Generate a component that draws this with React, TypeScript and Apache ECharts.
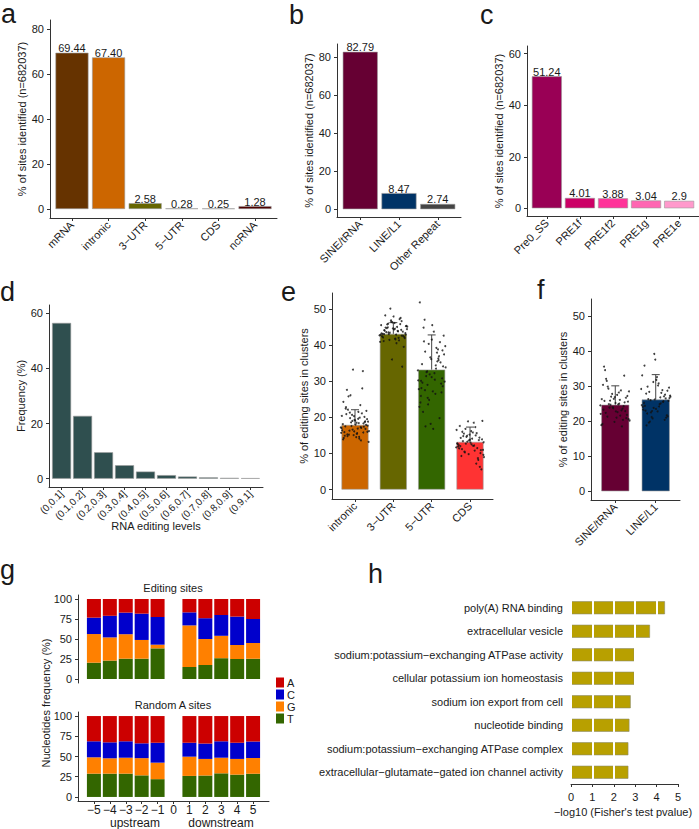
import React, { useEffect, useRef } from 'react';
import * as echarts from 'echarts';

// ---------------- data ----------------
const aCategories = ['mRNA', 'intronic', '3−UTR', '5−UTR', 'CDS', 'ncRNA'];
const aValues = [69.44, 67.4, 2.58, 0.28, 0.25, 1.28];
const aLabels = ['69.44', '67.40', '2.58', '0.28', '0.25', '1.28'];

const bCategories = ['SINE/tRNA', 'LINE/L1', 'Other Repeat'];
const bValues = [82.79, 8.47, 2.74];
const bLabels = ['82.79', '8.47', '2.74'];

const cCategories = ['Pre0_SS', 'PRE1f', 'PRE1f2', 'PRE1g', 'PRE1e'];
const cValues = [51.24, 4.01, 3.88, 3.04, 2.9];
const cLabels = ['51.24', '4.01', '3.88', '3.04', '2.9'];

const dCategories = ['(0,0.1]', '(0.1,0.2]', '(0.2,0.3]', '(0.3,0.4]', '(0.4,0.5]', '(0.5,0.6]', '(0.6,0.7]', '(0.7,0.8]', '(0.8,0.9]', '(0.9,1]'];
const dValues = [56.5, 22.8, 9.6, 4.9, 2.6, 1.3, 0.8, 0.5, 0.3, 0.2];

const eCategories = ['intronic', '3−UTR', '5−UTR', 'CDS'];
const eMeans = [17.9, 43.1, 33.2, 13.2];
const eSd = [4.2, 3.1, 9.6, 4.1];
const ePoints = [
  [17.2, 21.5, 14.8, 18.9, 16.1, 24.3, 13.6, 19.8, 17.7, 15.4, 22.8, 18.3, 16.6, 20.4, 14.1, 25.8, 17.9, 19.1, 15.9, 21.1, 18.6, 13.2, 16.9, 27.6, 20.1, 15.1, 18.1, 23.4, 16.3, 19.5, 14.5, 17.5, 32.8, 20.7, 15.7, 18.4, 22.1, 16.8, 19.3, 14.3, 17.1, 26.1, 18.8, 15.6, 20.9, 17.4, 33.2, 16.4, 19.9, 15.2, 21.8, 18.0, 14.9, 28.0, 17.6, 16.2, 19.6, 15.3, 18.7, 20.3, 13.9, 17.3, 21.3, 16.0, 18.5, 22.4, 15.8, 19.0, 17.0, 14.6],
  [43.5, 45.2, 41.8, 44.1, 42.6, 46.8, 40.9, 43.9, 44.7, 42.2, 47.9, 43.1, 45.8, 41.4, 44.4, 42.9, 48.2, 43.7, 36.0, 45.5, 42.0, 44.9, 43.3, 46.1, 41.1, 44.2, 50.1, 42.7, 45.0, 43.6, 39.5, 44.6, 42.4, 47.2, 43.0, 45.3, 41.6, 44.0, 34.0, 46.5, 42.8, 43.8, 45.7, 41.9, 44.3, 42.1, 47.5, 43.4, 45.1, 40.5, 44.8, 42.5, 46.3, 43.2, 41.3, 45.9, 42.9, 44.5, 43.0, 46.6],
  [33.5, 38.2, 28.6, 41.5, 30.1, 35.8, 25.4, 39.7, 32.2, 44.8, 29.3, 36.6, 22.9, 37.9, 31.4, 42.6, 27.2, 34.7, 19.8, 40.3, 33.0, 26.5, 47.0, 30.8, 36.1, 24.1, 38.8, 32.7, 29.9, 43.7, 21.5, 35.2, 31.9, 27.8, 39.2, 17.5, 34.1, 45.5, 28.1, 36.9, 23.6, 33.8, 30.4, 41.0, 26.9, 18.2, 51.8, 35.5, 32.5, 37.4, 16.8, 29.6, 40.8, 24.8, 30.2, 34.4, 27.5, 38.5, 31.1, 25.9, 36.3, 29.0],
  [13.1, 15.8, 11.2, 14.4, 9.8, 12.6, 17.3, 10.5, 13.9, 16.2, 12.0, 8.7, 14.9, 11.7, 18.5, 13.4, 10.1, 15.2, 12.3, 7.2, 16.8, 11.0, 14.1, 9.3, 13.7, 18.9, 12.8, 10.8, 15.5, 5.6, 13.0, 17.6, 11.5, 14.6, 9.0, 12.1, 16.0, 6.3, 13.6, 11.9, 15.0, 10.3, 19.0, 12.5, 14.3, 8.2, 13.3, 16.5, 12.2, 14.8, 10.9, 13.8, 11.4, 15.6, 12.7, 9.6],
];

const fCategories = ['SINE/tRNA', 'LINE/L1'];
const fMeans = [24.7, 26.2];
const fSd = [5.4, 7.1];
const fPoints = [
  [24.5, 28.2, 21.3, 26.7, 19.8, 30.4, 23.1, 25.9, 20.6, 27.5, 22.4, 33.0, 24.0, 18.9, 26.1, 29.3, 21.8, 25.2, 35.6, 23.6, 27.0, 20.2, 24.8, 31.5, 22.9, 26.4, 19.2, 28.8, 23.9, 25.6, 21.0, 34.6, 24.3, 27.8, 22.1, 25.0, 29.9, 20.9, 26.9, 23.3, 18.5, 24.7, 28.5, 22.6, 32.1, 25.4, 23.7, 26.3, 21.6, 24.9, 27.2, 22.8, 25.8, 20.4],
  [26.0, 29.6, 22.8, 27.9, 20.4, 31.2, 24.6, 26.8, 19.6, 28.7, 23.5, 35.9, 25.5, 21.2, 27.3, 30.8, 22.2, 26.5, 39.2, 24.1, 28.1, 19.9, 25.8, 32.6, 23.0, 27.1, 20.8, 29.2, 24.9, 26.3, 21.7, 37.6, 25.2, 28.9, 22.5, 26.6, 30.2, 18.8, 27.6, 23.8, 33.1, 25.1, 28.4, 21.4, 31.8, 24.4, 25.7, 22.9, 27.0, 24.2, 29.9, 21.0, 26.2, 23.3],
];

const gSlots = [-6, -5, -4, -3, -2, -1, 0, 1, 2, 3, 4, 5, 6];
const gPositions = [-5, -4, -3, -2, -1, 1, 2, 3, 4, 5];
const editT = [20.4, 23, 25.4, 25.4, 38.3, 15, 17.5, 26, 25, 25.4];
const editG = [35.8, 29, 30.6, 23.4, 4.6, 52, 32.5, 28, 17.5, 19.6];
const editC = [20.5, 27, 27, 32.9, 34.6, 16.3, 26, 26, 35.5, 30];
const editA = [23.3, 21, 17, 18.3, 22.5, 16.7, 24, 20, 22, 25];
const randT = [28.8, 28.8, 28.8, 26.7, 22, 26, 26.5, 29.2, 27.6, 28.8];
const randG = [20.2, 19, 19.7, 21.3, 20.4, 23.8, 20.5, 19.3, 19.4, 19.2];
const randC = [19.8, 19.7, 20.3, 18.3, 24.6, 17.2, 19, 20.3, 20, 20.5];
const randA = [31.2, 32.5, 31.2, 33.7, 33, 33, 34, 31.2, 33, 31.5];

const hTerms = [
  'poly(A) RNA binding',
  'extracellular vesicle',
  'sodium:potassium−exchanging ATPase activity',
  'cellular potassium ion homeostasis',
  'sodium ion export from cell',
  'nucleotide binding',
  'sodium:potassium−exchanging ATPase complex',
  'extracellular−glutamate−gated ion channel activity',
];
const hValues = [4.39, 3.69, 2.96, 2.96, 2.79, 2.73, 2.68, 2.68];

const ticksA = [0, 20, 40, 60, 80];
const ticksC = [0, 20, 40, 60];
const ticksE = [0, 10, 20, 30, 40, 50];
const ticksG = [0, 25, 50, 75, 100];

// ---------------- styles ----------------
const FONT = "'Liberation Sans', Arial, Helvetica, sans-serif";
const AX = '#333333';
const TXT = '#1a1a1a';
const aColors = ['#663300', '#CC6600', '#666600', '#336600', '#FF3333', '#4D0000'];
const bColors = ['#660033', '#003366', '#444444'];
const cColors = ['#990055', '#CC0066', '#FF3399', '#FF66B2', '#FF99CC'];
const eColors = ['#CC6600', '#666600', '#336600', '#FF3333'];
const nucColors: Record<string, string> = { A: '#CC0000', C: '#0000CC', G: '#FF8000', T: '#336600' };

const minusFmt = (v: number) => (v < 0 ? '−' + Math.abs(v) : String(v));

function yVal(gridIndex: number, min: number, max: number, ticks: number[], name?: string): any {
  return {
    type: 'value', gridIndex, min, max, name: name || '', nameLocation: 'middle', nameGap: 20,
    nameTextStyle: { fontFamily: FONT, fontSize: 11, color: TXT },
    axisLine: { show: true, onZero: false, lineStyle: { color: AX, width: 1 } },
    axisTick: { show: true, length: 3, customValues: ticks, lineStyle: { color: AX } },
    axisLabel: { customValues: ticks, color: TXT, fontSize: 11, fontFamily: FONT, margin: 6 },
    splitLine: { show: false },
  };
}

function xCat(gridIndex: number, cats: string[], fontSize = 11): any {
  const idx = cats.map((_, i) => i + 1);
  return {
    type: 'value', gridIndex, min: 0.4, max: cats.length + 0.6,
    axisLine: { show: true, onZero: false, lineStyle: { color: AX, width: 1 } },
    axisTick: { show: true, length: 3, customValues: idx, lineStyle: { color: AX } },
    axisLabel: {
      customValues: idx, rotate: 45, color: TXT, fontSize, fontFamily: FONT, margin: 5,
      formatter: (v: number) => cats[Math.round(v) - 1] ?? '',
    },
    splitLine: { show: false },
  };
}

function simpleBars(ax: number, values: number[], colors: string[], width: number, labels?: string[]): any {
  return {
    type: 'bar', xAxisIndex: ax, yAxisIndex: ax, barWidth: width,
    itemStyle: { borderColor: '#9a9a9a', borderWidth: 0.6 },
    data: values.map((v, i) => ({ value: [i + 1, v], itemStyle: { color: colors[i % colors.length] } })),
    label: labels ? {
      show: true, position: 'top', distance: -1, color: TXT, fontSize: 11, fontFamily: FONT,
      formatter: (p: any) => labels[p.dataIndex],
    } : { show: false },
    z: 2,
  };
}

const jitter = (i: number) => (((i * 0.6180339887) % 1) - 0.5) * 0.74;

function pointsSeries(ax: number, groups: number[][]): any {
  const data: number[][] = [];
  groups.forEach((g, gi) => g.forEach((y, i) => data.push([gi + 1 + jitter(i + gi * 7), y])));
  return {
    type: 'scatter', xAxisIndex: ax, yAxisIndex: ax, symbolSize: 2,
    itemStyle: { color: '#111' }, data, z: 5, silent: true,
  };
}

function errSeries(ax: number, means: number[], sds: number[]): any {
  return {
    type: 'custom', xAxisIndex: ax, yAxisIndex: ax, z: 4, silent: true,
    data: means.map((m, i) => [i + 1, m, m + sds[i]]),
    encode: { x: 0, y: [1, 2] },
    renderItem: (params: any, api: any) => {
      const x = api.value(0);
      const p1 = api.coord([x, api.value(1)]);
      const p2 = api.coord([x, api.value(2)]);
      const w = 4;
      return {
        type: 'group',
        children: [
          { type: 'line', shape: { x1: p1[0], y1: p1[1], x2: p2[0], y2: p2[1] }, style: { stroke: '#444', lineWidth: 1 } },
          { type: 'line', shape: { x1: p2[0] - w, y1: p2[1], x2: p2[0] + w, y2: p2[1] }, style: { stroke: '#444', lineWidth: 1 } },
        ],
      };
    },
  };
}

function stackSeries(ax: number, name: string, vals: number[], stack: string): any {
  return {
    type: 'bar', name, xAxisIndex: ax, yAxisIndex: ax, stack, barWidth: 14,
    itemStyle: { color: nucColors[name] },
    data: vals.map((v, i) => [String(gPositions[i]), v]),
  };
}

function gX(gridIndex: number, show: boolean): any {
  const last = gSlots.length - 1;
  return {
    type: 'category', gridIndex, data: gSlots.map(String), boundaryGap: false, show,
    axisLine: { show: true, onZero: false, lineStyle: { color: AX, width: 1 } },
    axisTick: {
      show: true, length: 3, lineStyle: { color: AX },
      interval: (i: number) => i > 0 && i < last,
    },
    axisLabel: {
      color: TXT, fontSize: 12, fontFamily: FONT, margin: 3,
      interval: (i: number) => i > 0 && i < last,
      formatter: (v: string) => minusFmt(Number(v)),
    },
    splitLine: { show: false },
  };
}

function txt(text: string, x: number, y: number, size = 11, align = 'center', vAlign = 'middle', rotation = 0): any {
  return {
    type: 'text', x, y, rotation,
    style: { text, font: `${size}px ${FONT}`, fill: TXT, textAlign: align, textVerticalAlign: vAlign },
  };
}

function buildOption(): any {
  const grid = [
    { left: 50, top: 20, width: 227, height: 198 },
    { left: 337, top: 44, width: 124, height: 173 },
    { left: 527, top: 46, width: 172, height: 170 },
    { left: 49, top: 305, width: 214, height: 182 },
    { left: 332, top: 293, width: 161, height: 206 },
    { left: 591, top: 299, width: 89, height: 201 },
    { left: 78, top: 595, width: 191, height: 88 },
    { left: 78, top: 712, width: 191, height: 89 },
    { left: 571, top: 596, width: 107, height: 188 },
  ].map((g) => ({ ...g, containLabel: false, outerBoundsMode: 'none' }));

  const nameA = '% of sites identified (n=682037)';
  const nameE = '% of editing sites in clusters';

  const xAxis: any[] = [
    xCat(0, aCategories),
    xCat(1, bCategories),
    xCat(2, cCategories),
    xCat(3, dCategories, 10),
    xCat(4, eCategories),
    xCat(5, fCategories),
    gX(6, false),
    gX(7, true),
    {
      type: 'value', gridIndex: 8, min: 0, max: 5, interval: 1, z: 10,
      axisLine: { show: true, onZero: false, lineStyle: { color: AX, width: 1 } },
      axisTick: { show: true, length: 3, lineStyle: { color: AX } },
      axisLabel: { color: TXT, fontSize: 11, fontFamily: FONT, margin: 7 },
      splitLine: { show: true, lineStyle: { color: '#ffffff', width: 2 } },
    },
  ];

  const yAxis: any[] = [
    yVal(0, -4, 84, ticksA, nameA),
    yVal(1, -4.1, 86.9, ticksA, nameA),
    yVal(2, -3, 63, ticksC, nameA),
    yVal(3, -3, 63, ticksC, 'Frequency (%)'),
    yVal(4, -2.6, 54.4, ticksE, nameE),
    yVal(5, -2.5, 54.9, ticksE, nameE),
    yVal(6, -5, 105, ticksG),
    yVal(7, -5, 105, ticksG),
    {
      type: 'category', gridIndex: 8, data: hTerms, inverse: true,
      axisLine: { show: false }, axisTick: { show: false },
      axisLabel: { color: TXT, fontSize: 11, fontFamily: FONT, margin: 8 },
    },
  ];

  const series: any[] = [
    simpleBars(0, aValues, aColors, 33, aLabels),
    simpleBars(1, bValues, bColors, 35, bLabels),
    simpleBars(2, cValues, cColors, 30, cLabels),
    simpleBars(3, dValues, ['#2F4F4F'], 19),
    simpleBars(4, eMeans, eColors, 27),
    errSeries(4, eMeans, eSd),
    pointsSeries(4, ePoints),
    simpleBars(5, fMeans, bColors, 28),
    errSeries(5, fMeans, fSd),
    pointsSeries(5, fPoints),
    stackSeries(6, 'T', editT, 'e'),
    stackSeries(6, 'G', editG, 'e'),
    stackSeries(6, 'C', editC, 'e'),
    stackSeries(6, 'A', editA, 'e'),
    stackSeries(7, 'T', randT, 'r'),
    stackSeries(7, 'G', randG, 'r'),
    stackSeries(7, 'C', randC, 'r'),
    stackSeries(7, 'A', randA, 'r'),
    {
      type: 'bar', xAxisIndex: 8, yAxisIndex: 8, barWidth: 13,
      itemStyle: { color: '#B8A000', borderColor: '#8a8a6a', borderWidth: 0.6 },
      data: hValues,
    },
  ];

  const graphic: any[] = [
    txt('a', 1, 0, 27, 'left', 'top'),
    txt('b', 289, 28, 27, 'left', 'bottom'),
    txt('c', 480, 28, 27, 'left', 'bottom'),
    txt('d', 0, 305, 27, 'left', 'bottom'),
    txt('e', 281, 305, 27, 'left', 'bottom'),
    txt('f', 537, 303, 27, 'left', 'bottom'),
    txt('g', 0, 583, 27, 'left', 'bottom'),
    txt('h', 368, 587, 27, 'left', 'bottom'),
    txt('RNA editing levels', 156, 526, 11),
    txt('Editing sites', 173, 588, 11),
    txt('Random A sites', 173, 705, 11),
    txt('upstream', 135, 823, 12),
    txt('downstream', 221, 823, 12),
    txt('Nucleotides frequency (%)', 46, 703, 11, 'center', 'middle', Math.PI / 2),
    txt('−log10 (Fisher\'s test pvalue)', 623, 812, 11),
  ];

  return {
    animation: false,
    backgroundColor: '#ffffff',
    textStyle: { fontFamily: FONT },
    grid,
    xAxis,
    yAxis,
    series,
    graphic,
    legend: {
      data: ['A', 'C', 'G', 'T'], orient: 'vertical', left: 276, top: 677,
      itemWidth: 8, itemHeight: 10, itemGap: 1, padding: 0, icon: 'rect', selectedMode: false,
      textStyle: { fontSize: 11, fontFamily: FONT, color: TXT, lineHeight: 10, padding: [0, 0, 0, -2] },
    },
  };
}

export default function App() {
  const ref = useRef<HTMLDivElement>(null);
  useEffect(() => {
    if (!ref.current) return;
    const chart = echarts.init(ref.current, null, { renderer: 'svg' });
    chart.setOption(buildOption());
    return () => chart.dispose();
  }, []);
  return (
    <div
      ref={ref}
      style={{ position: 'fixed', left: 0, top: 0, width: 699, height: 829, background: '#fff' }}
    />
  );
}
